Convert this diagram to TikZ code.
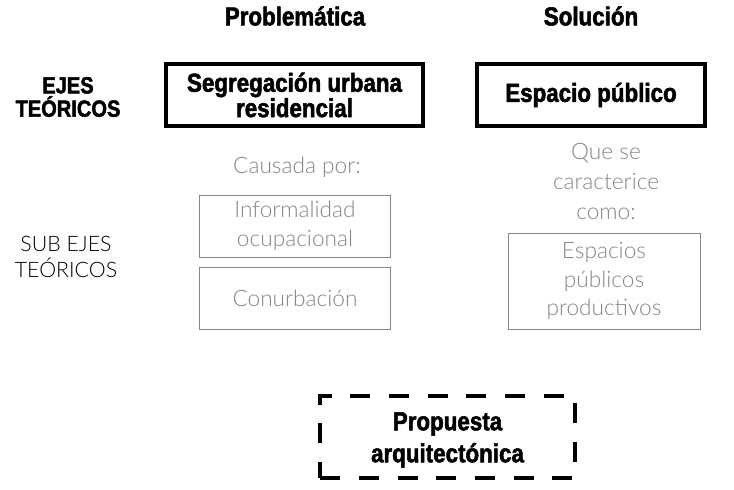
\documentclass[tikz,border=0pt]{standalone}
\usepackage{fontspec}
\setmainfont{Lato Light}
\newfontfamily\heavyfont[FakeStretch=0.86,FakeBold=2]{Liberation Sans Bold}
\usepackage{xcolor}
\usepackage{tikz}

\definecolor{softgray}{HTML}{858585}

\begin{document}
\begin{tikzpicture}[
	x=0.75pt,y=-0.75pt,
	heading/.style={font=\heavyfont\fontsize{19.5}{19}\selectfont,align=center,inner sep=0pt},
	plain/.style={font=\fontsize{17}{22.5}\selectfont,align=center,inner sep=0pt,text=softgray},
	mainbox/.style={rectangle,draw=black,line width=3pt,inner sep=0pt,heading},
	subbox/.style={rectangle,draw=softgray,line width=0.75pt,inner sep=0pt,plain,font=\fontsize{17}{21.5}\selectfont},
	proposal/.style={rectangle,draw=black,line width=3pt,dash pattern=on 15pt off 14pt,inner sep=0pt,heading,font=\heavyfont\fontsize{19.5}{24}\selectfont}
]
	\useasboundingbox (0,0) rectangle (734,489);
	% column titles
	\node[heading] (problematica) at (295,16) {Problemática};
	\node[heading] (solucion) at (591,16) {Solución};
	% row titles
	\node[heading,font=\heavyfont\fontsize{17.5}{17.5}\selectfont] (ejes) at (68,97) {EJES\\TEÓRICOS};
	\node[plain,text=black,font=\fontsize{16}{19.5}\selectfont] (subejes) at (66,257) {SUB EJES\\TEÓRICOS};
	% main axes
	\node[mainbox,minimum width=193pt,minimum height=46.5pt] (segregacion) at (294.5,95) {Segregación urbana\\residencial};
	\node[mainbox,minimum width=171pt,minimum height=46.5pt] (espacio) at (591,95) {Espacio público};
	% sub axes
	\node[plain] (causada) at (297,167) {Causada por:};
	\node[subbox,minimum width=143pt,minimum height=46.5pt] (informalidad) at (295,226) {Informalidad\\ocupacional};
	\node[subbox,minimum width=143pt,minimum height=47pt] (conurbacion) at (295,298.5) {Conurbación};
	\node[plain] (caracterice) at (606,181) {Que se\\caracterice\\como:};
	\node[subbox,minimum width=144pt,minimum height=72pt] (productivos) at (604,281) {Espacios\\públicos\\productivos};
	% proposal
	\node[proposal,minimum width=191pt,minimum height=61.5pt] (propuesta) at (447.5,437) {};
	\node[heading,font=\heavyfont\fontsize{19.5}{24}\selectfont] (propuestatext) at (447.5,440) {Propuesta\\arquitectónica};
\end{tikzpicture}
\end{document}
